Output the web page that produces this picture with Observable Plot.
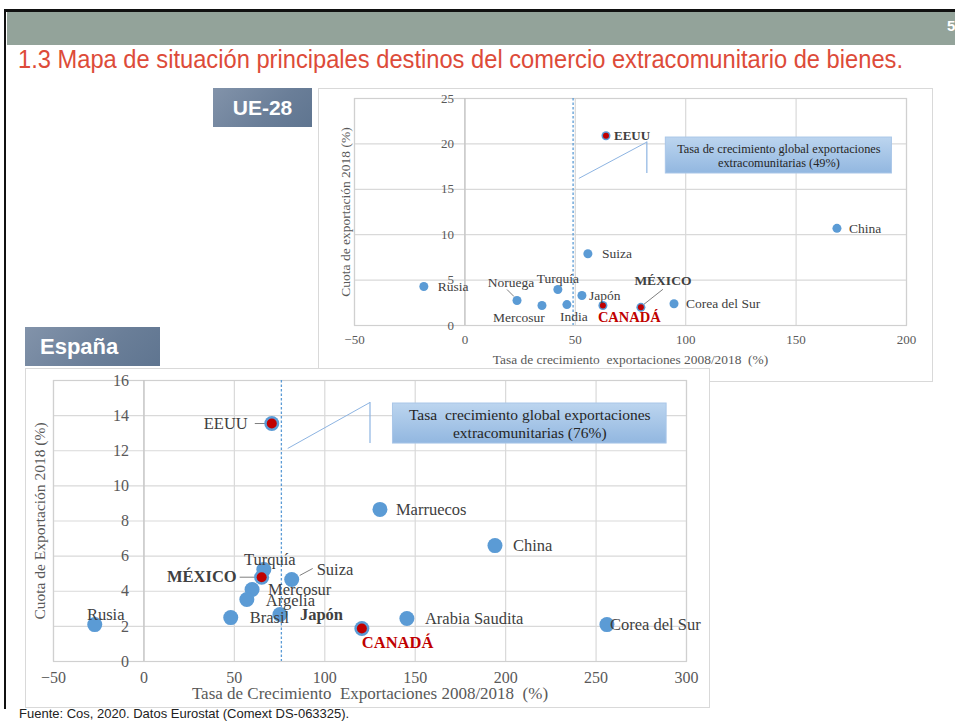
<!DOCTYPE html>
<html><head><meta charset="utf-8">
<script src="https://cdn.jsdelivr.net/npm/d3@7"></script>
<script src="https://cdn.jsdelivr.net/npm/@observablehq/plot@0.6"></script>
<style>
body{margin:0;background:#fff;}
#slide{position:relative;width:955px;height:722px;overflow:hidden;background:#fff;font-family:"Liberation Sans",Arial,sans-serif;}
.abs{position:absolute;box-sizing:border-box;}
.tag{color:#fff;font-weight:bold;background:linear-gradient(135deg,#8293aa 0%,#6a7e98 60%,#5f7590 100%);}
</style></head><body>
<div id="slide">
  <div class="abs" style="left:4px;top:9px;width:951px;height:3px;background:#111"></div>
  <div class="abs" style="left:7px;top:12px;width:948px;height:33px;background:#93A39A"></div>
  <div class="abs" style="left:947px;top:17px;font-size:15px;font-weight:bold;color:#fff">5</div>
  <div class="abs" style="left:4px;top:9px;width:2px;height:700px;background:#111"></div>
  <svg class="abs" style="left:0;top:45px" width="955" height="32">
    <text id="title" x="18" y="23" font-family="'Liberation Sans Narrow','Liberation Sans',Arial,sans-serif" font-size="25" fill="#DD4B39" textLength="885" lengthAdjust="spacingAndGlyphs"></text>
  </svg>
  <div id="upBox" class="abs" style="left:318px;top:88px;width:615px;height:294px;border:1px solid #d9d9d9;background:#fff"></div>
  <div id="up" class="abs" style="left:318px;top:88px"></div>
  <div class="abs tag" style="left:213px;top:88px;width:99px;height:39px;font-size:21px;line-height:39px;text-align:center" id="tagUE"></div>
  <div id="loBox" class="abs" style="left:25px;top:368px;width:685px;height:340px;border:1px solid #d9d9d9;background:#fff"></div>
  <div id="lo" class="abs" style="left:25px;top:368px"></div>
  <div class="abs tag" style="left:25px;top:327px;width:135px;height:39px;font-size:22px;line-height:39px;padding-left:15px" id="tagES"></div>
  <div class="abs" style="left:19px;top:706px;font-size:13px;color:#222" id="footer"></div>
</div>
<script>
// ---------- text ----------
const slideTitle = "1.3 Mapa de situación principales destinos del comercio extracomunitario de bienes.";
const footerText = "Fuente: Cos, 2020. Datos Eurostat (Comext DS-063325).";
const ueTag = "UE-28";
const esTag = "España";

// ---------- UE-28 data ----------
const ueNames  = ["EEUU","China","Suiza","Rusia","Noruega","Mercosur","Turquía","India","Japón","CANADÁ","MÉXICO","Corea del Sur"];
const ueGrowth = [63.9, 168.5, 55.7, -18.6, 23.6, 34.9, 42.1, 46.2, 53.0, 62.5, 79.7, 94.7];
const ueShare  = [20.9, 10.7, 7.9, 4.3, 2.75, 2.2, 3.96, 2.3, 3.3, 2.2, 2.0, 2.4];
const ueHighlight = ["EEUU","CANADÁ","MÉXICO"];
const ueGlobalGrowth = 49;
const ueXTicks = [-50, 0, 50, 100, 150, 200];
const ueYTicks = [0, 5, 10, 15, 20, 25];
const ueXLabel = "Tasa de crecimiento  exportaciones 2008/2018  (%)";
const ueYLabel = "Cuota de exportación 2018 (%)";
const ueNote = "Tasa de crecimiento global exportaciones\nextracomunitarias (49%)";

// ---------- España data ----------
const esNames  = ["EEUU","Marruecos","China","Turquía","MÉXICO","Suiza","Mercosur","Argelia","Brasil","Japón","Rusia","Arabia Saudita","CANADÁ","Corea del Sur"];
const esGrowth = [70.7, 130.5, 194.1, 66.3, 65.1, 81.7, 59.8, 56.9, 48.0, 75.2, -27.2, 145.4, 120.5, 256.0];
const esShare  = [13.55, 8.66, 6.6, 5.24, 4.8, 4.67, 4.1, 3.53, 2.5, 2.68, 2.1, 2.45, 1.88, 2.1];
const esHighlight = ["EEUU","MÉXICO","CANADÁ"];
const esGlobalGrowth = 76;
const esXTicks = [-50, 0, 50, 100, 150, 200, 250, 300];
const esYTicks = [0, 2, 4, 6, 8, 10, 12, 14, 16];
const esXLabel = "Tasa de Crecimiento  Exportaciones 2008/2018  (%)";
const esYLabel = "Cuota de Exportación 2018 (%)";
const esNote = "Tasa  crecimiento global exportaciones\nextracomunitarias (76%)";

// ---------- layout / styling (not data) ----------
document.getElementById("title").textContent = slideTitle;
document.getElementById("footer").textContent = footerText;
document.getElementById("tagUE").textContent = ueTag;
document.getElementById("tagES").textContent = esTag;

const BLUE = "#5B9BD5", RED = "#C00000", INK = "#404040", GRID = "#d9d9d9";

const uePlace = {
  "EEUU": {dx: 8, bold: true, size: 13},
  "China": {dx: 12}, "Suiza": {dx: 14}, "Rusia": {dx: 14},
  "Noruega": {dx: -6, dy: -18, anchor: "middle", leader: [-3, -4, -10, -11]},
  "Mercosur": {dx: -23, dy: 12, anchor: "middle"},
  "Turquía": {dx: 0, dy: -11, anchor: "middle"},
  "India": {dx: 7, dy: 12, anchor: "middle"},
  "Japón": {dx: 7},
  "CANADÁ": {dx: -5, dy: 12, bold: true, red: true, size: 14.5},
  "MÉXICO": {dx: 22, dy: -27, anchor: "middle", bold: true, size: 13.5, leader: [3, -3, 22, -18]},
  "Corea del Sur": {dx: 12}
};
const esPlace = {
  "EEUU": {dx: -24, anchor: "end", leader: [-4, 0, -17, 0]},
  "Marruecos": {dx: 16}, "China": {dx: 18},
  "Turquía": {dx: 6, dy: -10, anchor: "middle"},
  "MÉXICO": {dx: -25, anchor: "end", bold: true, size: 16.5, leader: [-4, 0, -22, 0]},
  "Suiza": {dx: 25, dy: -10, leader: [8, -4, 21, -11]},
  "Mercosur": {dx: 16}, "Argelia": {dx: 19, dy: 1}, "Brasil": {dx: 19},
  "Japón": {dx: 20, bold: true},
  "Rusia": {dx: 11, dy: -10, anchor: "middle"},
  "Arabia Saudita": {dx: 18},
  "CANADÁ": {dx: 0, dy: 14, bold: true, red: true, size: 16.5},
  "Corea del Sur": {dx: 3}
};

function gradientDefs(id) {
  return `<defs><linearGradient id="${id}" x1="0" y1="0" x2="0" y2="1">
    <stop offset="0" stop-color="#bcd5ef"/><stop offset="1" stop-color="#92b7e0"/></linearGradient></defs>`;
}

function buildChart(cfg) {
  const {W, H, ml, mr, mt, mb, xDomain, yDomain, names, gx, gy, highlight, global, xTicks, yTicks,
         xLabel, yLabel, note, noteBox, noteLeader, place, r, rRed, fs, tickFs, yTickDx, tickPad,
         xTitleDy, yTitleDx, xTitleFs, yTitleFs, noteFs, gradId} = cfg;
  const sx = Plot.scale({x: {domain: xDomain, range: [ml, W - mr]}});
  const sy = Plot.scale({y: {domain: yDomain, range: [H - mb, mt]}});
  const idx = names.map((_, i) => i);
  const hi = idx.filter(i => highlight.includes(names[i]));
  const leaders = idx.filter(i => place[names[i]] && place[names[i]].leader).map(i => {
    const L = place[names[i]].leader, px = sx.apply(gx[i]), py = sy.apply(gy[i]);
    return {x1: sx.invert(px + L[0]), y1: sy.invert(py + L[1]), x2: sx.invert(px + L[2]), y2: sy.invert(py + L[3])};
  });
  const labels = idx.map(i => {
    const p = place[names[i]] || {};
    return Plot.text([i], {
      x: j => gx[j], y: j => gy[j], text: j => names[j],
      dx: p.dx ?? 10, dy: p.dy ?? 0, textAnchor: p.anchor ?? "start",
      fontWeight: p.bold ? "bold" : "normal", fill: p.red ? RED : INK, fontSize: p.size ?? fs
    });
  });
  const svg = Plot.plot({
    width: W, height: H, marginLeft: ml, marginRight: mr, marginTop: mt, marginBottom: mb,
    style: {fontFamily: "'Liberation Serif','Times New Roman',serif", fontSize: tickFs + "px", color: "#595959", background: "transparent"},
    x: {domain: xDomain, ticks: xTicks, tickSize: 0, tickPadding: tickPad, label: null},
    y: {domain: yDomain, axis: null},
    marks: [
      Plot.ruleX(xTicks, {stroke: GRID, strokeWidth: 1.2}),
      Plot.ruleY(yTicks, {stroke: GRID, strokeWidth: 1.2}),
      Plot.frame({stroke: "#d0d0d0", strokeWidth: 1.2}),
      Plot.ruleX([0], {stroke: "#c4c4c4", strokeWidth: 1.2}),
      Plot.ruleX([global], {stroke: "#5B9BD5", strokeDasharray: "2.5,2", strokeWidth: 1.3}),
      Plot.text(yTicks, {x: 0, y: d => d, text: d => String(d), dx: yTickDx, textAnchor: "end", fill: "#595959", fontSize: tickFs}),
      Plot.text([xLabel], {frameAnchor: "bottom", dy: xTitleDy, lineAnchor: "middle", textAnchor: "middle", fill: "#595959", fontSize: xTitleFs}),
      Plot.text([yLabel], {frameAnchor: "left", rotate: -90, dx: yTitleDx, textAnchor: "middle", lineAnchor: "middle", fill: "#595959", fontSize: yTitleFs}),
      Plot.link([noteLeader], {x1: "x1", y1: "y1", x2: "x2", y2: "y2", stroke: "#8db4e2", strokeWidth: 1}),
      Plot.ruleX([noteLeader], {x: "x2", y1: "y2", y2: "y3", stroke: "#8db4e2", strokeWidth: 1.2}),
      Plot.rect([noteBox], {x1: "x1", x2: "x2", y1: "y1", y2: "y2", fill: `url(#${gradId})`, stroke: "#a9c6e8"}),
      Plot.text([note], {x: (noteBox.x1 + noteBox.x2) / 2, y: (noteBox.y1 + noteBox.y2) / 2, text: d => d, fill: "#262626", fontSize: noteFs, lineHeight: 1.1}),
      Plot.link(leaders, {x1: "x1", y1: "y1", x2: "x2", y2: "y2", stroke: "#7f7f7f", strokeWidth: 1}),
      Plot.dot(idx, {x: i => gx[i], y: i => gy[i], r: r, fill: BLUE}),
      Plot.dot(hi, {x: i => gx[i], y: i => gy[i], r: rRed, fill: RED}),
      ...labels
    ]
  });
  svg.insertAdjacentHTML("afterbegin", gradientDefs(gradId));
  return svg;
}

document.getElementById("up").appendChild(buildChart({
  W: 615, H: 294, ml: 36, mr: 27, mt: 10, mb: 57,
  xDomain: [-50, 200], yDomain: [0, 25],
  names: ueNames, gx: ueGrowth, gy: ueShare, highlight: ueHighlight, global: ueGlobalGrowth,
  xTicks: ueXTicks, yTicks: ueYTicks, xLabel: ueXLabel, yLabel: ueYLabel, note: ueNote,
  noteBox: {x1: 91, x2: 193.4, y1: 16.74, y2: 20.7},
  noteLeader: {x1: 51.6, y1: 16.2, x2: 82.4, y2: 20.2, y3: 16.74},
  place: uePlace, r: 4.5, rRed: 3, fs: 13.5, tickFs: 13, yTickDx: -11, tickPad: 9,
  xTitleDy: 34, yTitleDx: -9, xTitleFs: 13.4, yTitleFs: 13.5, noteFs: 12.3, gradId: "gU"
}));

document.getElementById("lo").appendChild(buildChart({
  W: 685, H: 340, ml: 28, mr: 24, mt: 12, mb: 47,
  xDomain: [-50, 300], yDomain: [0, 16],
  names: esNames, gx: esGrowth, gy: esShare, highlight: esHighlight, global: esGlobalGrowth,
  xTicks: esXTicks, yTicks: esYTicks, xLabel: esXLabel, yLabel: esYLabel, note: esNote,
  noteBox: {x1: 137.7, x2: 289, y1: 12.41, y2: 14.69},
  noteLeader: {x1: 79.5, y1: 12.13, x2: 125, y2: 14.75, y3: 12.41},
  place: esPlace, r: 7.5, rRed: 5, fs: 16.5, tickFs: 16, yTickDx: -15, tickPad: 10,
  xTitleDy: 32, yTitleDx: -13, xTitleFs: 17, yTitleFs: 15.5, noteFs: 15.5, gradId: "gE"
}));
</script>
</body></html>
